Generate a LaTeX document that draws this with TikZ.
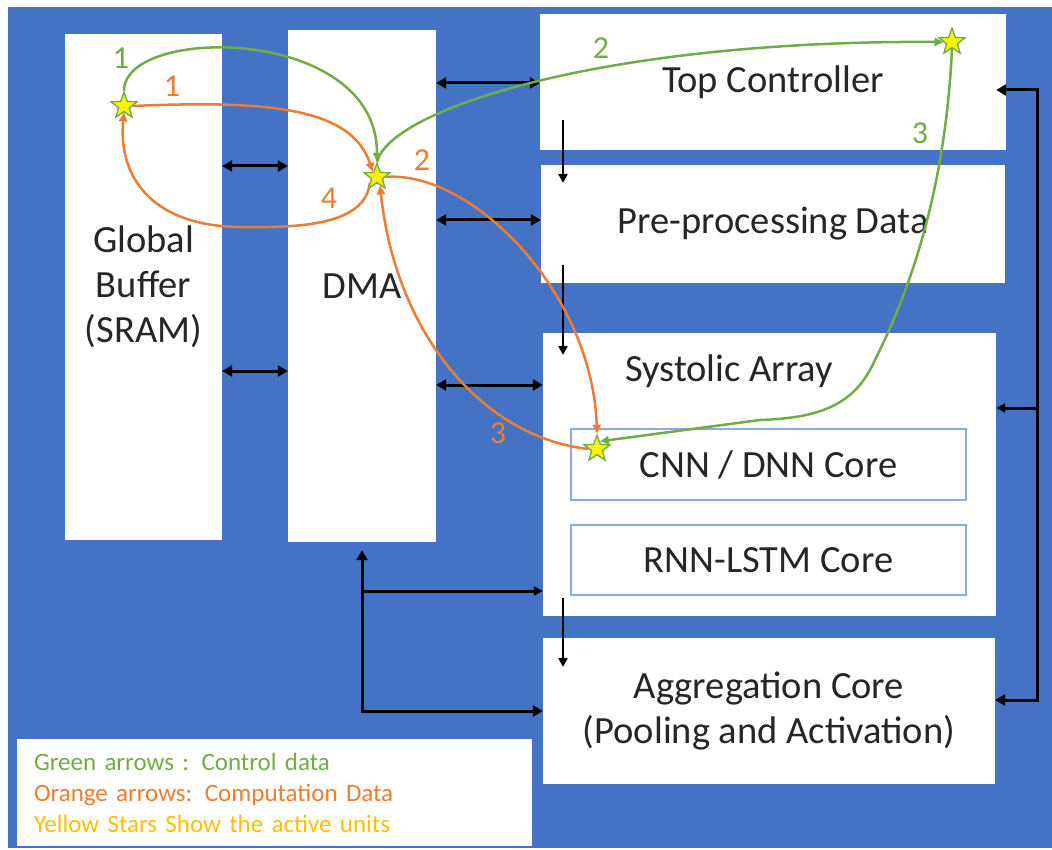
\documentclass[tikz,border=0pt]{standalone}
\usepackage{fontspec}
\setmainfont{Carlito}
\usepackage{tikz}
\usetikzlibrary{shapes.geometric, arrows.meta, positioning}
\definecolor{bgBlue}{HTML}{4472C4}
\definecolor{ctlGreen}{HTML}{70AD47}
\definecolor{compOrange}{HTML}{ED7D31}
\definecolor{starGold}{HTML}{FFC000}
\definecolor{coreLine}{HTML}{8FAADC}
\definecolor{txtGray}{HTML}{262626}

\begin{document}
\begin{tikzpicture}[x=1pt, y=-1pt,
    blk/.style={rectangle, fill=white, inner sep=0pt, align=center, text=txtGray,
      font=\fontsize{38.5}{45}\selectfont},
    core/.style={blk, draw=coreLine, line width=1.5pt},
    active/.style={star, star points=5, star point ratio=2.4, fill=yellow, draw=ctlGreen,
      line width=1.2pt, minimum size=27pt, inner sep=0pt},
    barr/.style={{Triangle[length=10pt,width=11pt]}-{Triangle[length=10pt,width=11pt]}, line width=3pt},
    darr/.style={-{Triangle[length=9pt,width=9pt]}, line width=2.5pt},
    garr/.style={-{Triangle[length=9pt,width=8pt]}, line width=2.5pt, ctlGreen},
    oarr/.style={-{Triangle[length=9pt,width=8pt]}, line width=2.5pt, compOrange},
    num/.style={font=\fontsize{32}{36}\selectfont, inner sep=0pt}
  ]
  \useasboundingbox (0,0) rectangle (1052,850);
  \fill[bgBlue] (8,7) rectangle (1052,848);

  % memory side
  \node[blk, minimum width=157pt, minimum height=506pt] (gb) at (143.5,287) {Global\\Buffer\\(SRAM)};
  \node[blk, minimum width=148pt, minimum height=512pt] (dma) at (362,286) {DMA};

  % compute side
  \node[blk, minimum width=466pt, minimum height=136pt] (tc) at (773,82) {Top Controller};
  \node[blk, minimum width=464pt, minimum height=118pt] (pp) at (773,224) {Pre-processing Data};
  \node[blk, minimum width=453pt, minimum height=283pt] (sa) at (769.5,474.5) {};
  \node[blk, fill=none] (salbl) at (729,371) {Systolic Array};
  \node[core, minimum width=395pt, minimum height=71pt] (cnn) at (768.5,464.5) {CNN / DNN Core};
  \node[core, minimum width=395pt, minimum height=70pt] (rnn) at (768.5,560) {RNN-LSTM Core};
  \node[blk, minimum width=452pt, minimum height=146pt] (ag) at (769,711) {Aggregation Core\\(Pooling and Activation)};

  % legend
  \node[blk, minimum width=515pt, minimum height=107pt, text width=481pt, align=left,
    font=\fontsize{25}{31}\selectfont] (legend) at (274.5,792.5)
    {\textcolor{ctlGreen}{Green arrows\ : Control data}\\
     \textcolor{compOrange}{Orange arrows: Computation Data}\\
     \textcolor{starGold}{Yellow Stars Show the active units}};

  % data buses
  \draw[barr] (gb.east |- 0,166) -- (dma.west |- 0,166);
  \draw[barr] (gb.east |- 0,371) -- (dma.west |- 0,371);
  \draw[barr] (dma.east |- 0,83) -- (tc.west |- 0,83);
  \draw[barr] (dma.east |- 0,220) -- (pp.west |- 0,220);
  \draw[barr] (dma.east |- 0,385) -- (sa.west |- 0,385);

  \coordinate (tcdown) at (563,120);
  \coordinate (ppdown) at (563,265);
  \coordinate (sadown) at (563,598);
  \draw[darr] (tcdown) -- (tcdown |- 0,183);
  \draw[darr] (ppdown) -- (ppdown |- 0,355);
  \draw[darr] (sadown) -- (sadown |- 0,667);

  \coordinate (rb1) at (1037,90);
  \coordinate (rb2) at (1037,408);
  \coordinate (rb3) at (1037,700);
  \draw[barr, line join=miter] (rb1 -| sa.east) -- (rb1) -- (rb3) -- (rb3 -| ag.east);
  \draw[darr, line width=3pt] (rb2) -- (rb2 -| sa.east);

  \coordinate (db1) at (362,591);
  \coordinate (db2) at (362,711);
  \draw[barr, line join=miter] ([yshift=-8pt]dma.south -| db2) -- (db2) -- (db2 -| ag.west);
  \draw[darr, line width=3pt] (db1) -- (db1 -| sa.west);

  % active units
  \node[active] (gbs) at (124,106) {};
  \node[active] (dmas) at (377,177) {};
  \node[active] (tcs) at (952,42) {};
  \node[active] (cnns) at (597,449) {};

  % control flow
  \draw[garr] (gbs.north) .. controls (124,25) and (377,25) .. (dmas.north);
  \draw[garr] (dmas.north) .. controls (390,110) and (600,40) .. (tcs.west);
  \draw[garr] (tcs.south) .. controls (945,200) and (905,300) .. (875,360)
    .. controls (855,405) and (820,418) .. (760,420) -- (cnns.70);
  \node[num, text=ctlGreen] (g1) at (121,58) {1};
  \node[num, text=ctlGreen] (g2) at (601,48) {2};
  \node[num, text=ctlGreen] (g3) at (920,133) {3};

  % computation flow
  \draw[oarr] (gbs.east) .. controls (270,100) and (352,108) .. (dmas.130);
  \draw[oarr] (dmas.east) .. controls (470,170) and (592,290) .. (cnns.north);
  \draw[oarr] (cnns.west) .. controls (480,437) and (395,330) .. (dmas.-70);
  \draw[oarr] (dmas.220) .. controls (365,225) and (300,228) .. (240,227)
    .. controls (150,226) and (118,175) .. (gbs.south);
  \node[num, text=compOrange] (o1) at (172,86) {1};
  \node[num, text=compOrange] (o2) at (422,160) {2};
  \node[num, text=compOrange] (o3) at (498,433) {3};
  \node[num, text=compOrange] (o4) at (329,198) {4};

  % stars on top
  \node[active] at (gbs) {};
  \node[active] at (dmas) {};
  \node[active] at (tcs) {};
  \node[active] at (cnns) {};
\end{tikzpicture}
\end{document}
